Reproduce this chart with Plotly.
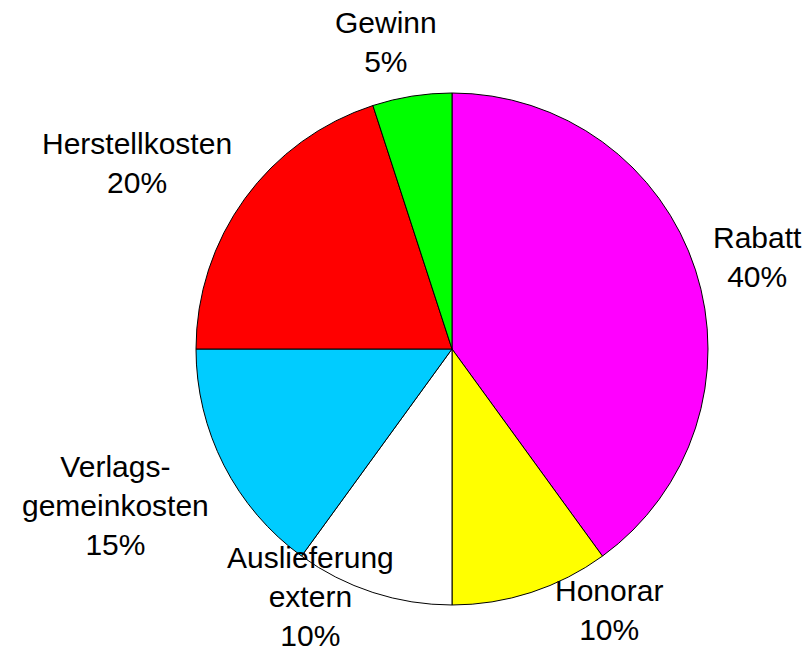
import plotly.graph_objects as go

# Data
categories = ["Rabatt", "Honorar", "Auslieferung extern", "Verlagsgemeinkosten", "Herstellkosten", "Gewinn"]
values = [40, 10, 10, 15, 20, 5]
label_texts = ["Rabatt", "Honorar", "Auslieferung<br>extern", "Verlags-<br>gemeinkosten", "Herstellkosten", "Gewinn"]
colors = ["#FF00FF", "#FFFF00", "#FFFFFF", "#00CCFF", "#FF0000", "#00FF00"]

W, H = 808, 651
# label centers in pixels (layout)
label_px = [(757, 257), (609, 610), (310, 596), (116, 505), (137, 163), (386, 42)]

total = sum(values)

fig = go.Figure(go.Pie(
    labels=categories,
    values=values,
    sort=False,
    direction="clockwise",
    rotation=0,
    marker=dict(colors=colors, line=dict(color="black", width=1)),
    textinfo="none",
    hoverinfo="label+percent",
    showlegend=False,
    domain=dict(x=[196 / W, 708 / W], y=[1 - 605 / H, 1 - 93 / H]),
))

annotations = []
for txt, v, (px, py) in zip(label_texts, values, label_px):
    annotations.append(dict(
        text=f"{txt}<br>{round(v / total * 100)}%",
        x=px / W, y=1 - py / H, xref="paper", yref="paper",
        xanchor="center", yanchor="middle", align="center",
        showarrow=False,
        font=dict(family="Liberation Sans, Arial, sans-serif", size=30, color="black"),
    ))

fig.update_layout(
    width=W, height=H,
    margin=dict(l=0, r=0, t=0, b=0),
    paper_bgcolor="white", plot_bgcolor="white",
    annotations=annotations,
)

fig.write_html(
    "out.html",
    config={"displayModeBar": False},
    post_script="document.body.style.margin='0';document.body.style.overflow='hidden';",
)
